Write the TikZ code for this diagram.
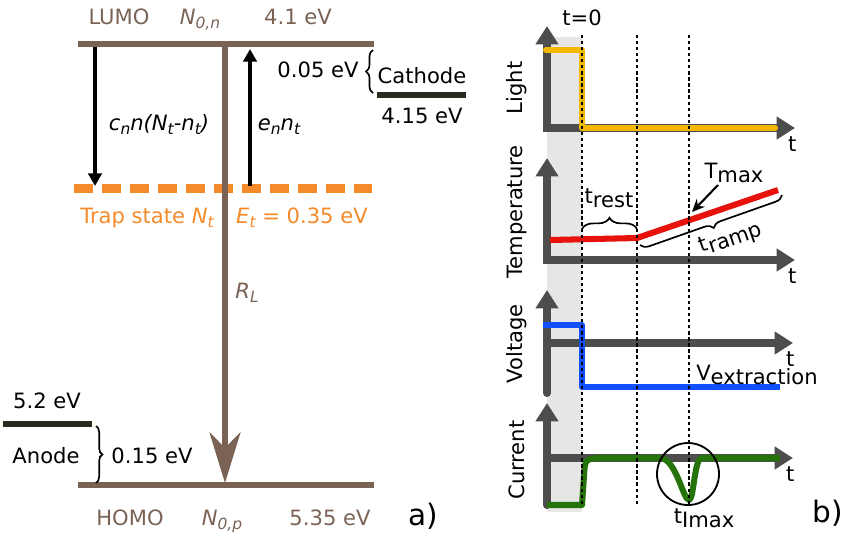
\documentclass[tikz,border=0pt]{standalone}
\usepackage{fontspec}
\setmainfont{DejaVu Sans}
\usetikzlibrary{arrows.meta, decorations.pathreplacing}
\usetikzlibrary{positioning}
\usepackage{xcolor}
\definecolor{levelbrown}{RGB}{122,99,85}
\definecolor{traporange}{RGB}{244,138,42}
\definecolor{contactdark}{RGB}{42,42,30}
\definecolor{axisgray}{RGB}{77,77,77}
\definecolor{bandgray}{RGB}{230,230,230}
\definecolor{lightyellow}{RGB}{245,184,0}
\definecolor{heatred}{RGB}{232,18,12}
\definecolor{voltblue}{RGB}{16,80,255}
\definecolor{currgreen}{RGB}{38,115,12}
\newcommand{\isub}[1]{\raisebox{-3.5pt}{\fontsize{11}{11}\selectfont #1}}
\newcommand{\tsub}[1]{\raisebox{-3pt}{#1}}

\begin{document}
\begin{tikzpicture}[x=0.025cm, y=-0.025cm,
		every node/.style={font=\fontsize{15}{18}\selectfont, inner sep=0pt, anchor=base},
		level/.style={levelbrown, line width=4.3pt},
		contact/.style={contactdark, line width=3.6pt},
		trap/.style={traporange, line width=6.4pt, dash pattern=on 13.5pt off 6.4pt},
		rate/.style={line width=3.5pt, -{Triangle[width=9.5pt, length=9pt]}},
		gap/.style={decorate, decoration={brace, amplitude=#1}, line width=1.2pt},
		gap/.default=5pt,
		axis/.style={axisgray, line width=5.7pt, line cap=round, -{Triangle[width=15.5pt, length=13pt]}},
		axisL/.style={axisgray, line width=5.7pt, {Triangle[width=15.5pt, length=13pt]}-{Triangle[width=15.5pt, length=13pt]}},
		signal/.style={line width=4.3pt, line join=round},
		marker/.style={black, line width=1.2pt, dash pattern=on 2.3pt off 2pt},
		ylab/.style={rotate=90, anchor=center},
		tlab/.style={anchor=north, yshift=-6pt, xshift=-2pt}]
		\useasboundingbox (0,0) rectangle (848,542);
		
		% a) energy levels
		\coordinate (lumoL) at (78,44);
		\coordinate (lumoR) at (374,44);
		\coordinate (homoL) at (78,485);
		\coordinate (homoR) at (374,485);
		\coordinate (trapL) at (74,188);
		\coordinate (trapR) at (372,188);
		\draw[trap] (trapL) -- (trapR);
		\draw[level] (lumoL) -- (lumoR);
		\draw[level] (homoL) -- (homoR);
		
		\coordinate (rlTop) at (225,44);
		\coordinate (rlEnd) at (225,483);
		\draw[level, line width=4pt, -{Stealth[length=36pt, width=22pt, inset=11pt]}] (rlTop) -- (rlEnd);
		
		\coordinate (capTop) at (95,47);
		\coordinate (capBot) at (95,186);
		\coordinate (emBot) at (250,186);
		\coordinate (emTop) at (250,49);
		\draw[rate] (capTop) -- (capBot);
		\draw[rate] (emBot) -- (emTop);
		
		\node[levelbrown] (lumo) at (119,24) {LUMO};
		\node[levelbrown] (nOn) at (200,24) {\itshape N\isub{0,n}};
		\node[levelbrown] (eLumo) at (298,24) {4.1 eV};
		\node (capRate) at (159,130) {\itshape c\isub{n}n(N\isub{t}-n\isub{t})};
		\node (emRate) at (279,130) {\itshape e\isub{n}n\isub{t}};
		\node[traporange] (trapName) at (147,223) {Trap state \textit{N}\isub{\itshape t}};
		\node[traporange] (trapE) at (302,223) {\textit{E}\isub{\itshape t} = 0.35 eV};
		\node[levelbrown] (rl) at (247,298) {\itshape R\isub{L}};
		\node[levelbrown] (homo) at (130,525) {HOMO};
		\node[levelbrown] (nOp) at (222,525) {\itshape N\isub{0,p}};
		\node[levelbrown] (eHomo) at (330,525) {5.35 eV};
		
		% cathode
		\coordinate (cathL) at (377,95);
		\coordinate (cathR) at (466,95);
		\draw[contact] (cathL) -- (cathR);
		\node (cath) at (422,83) {Cathode};
		\node (eCath) at (422,123) {4.15 eV};
		\coordinate (gapTop) at (373,50);
		\coordinate (gapBot) at (373,93);
		\draw[gap=5pt] (gapBot) -- (gapTop);
		\node (dCath) at (318,77) {0.05 eV};
		
		% anode
		\coordinate (anL) at (3,424);
		\coordinate (anR) at (92,424);
		\draw[contact] (anL) -- (anR);
		\node (eAn) at (47,408) {5.2 eV};
		\node (an) at (46,463) {Anode};
		\coordinate (anTop) at (96,426);
		\coordinate (anBot) at (96,483);
		\draw[gap=4.5pt] (anTop) -- (anBot);
		\node (dAn) at (152,463) {0.15 eV};
		
		\node[font=\fontsize{21}{24}\selectfont] (pa) at (423,525) {a)};
		
		% b) time traces
		\fill[bandgray] (547,37) rectangle (582,512);
		
		\coordinate (lightY) at (547,26);
		\coordinate (lightO) at (547,128);
		\coordinate (lightX) at (795,128);
		\draw[axisL] (lightY) -- (lightO) -- (lightX);
		\node[tlab] (tLight) at (lightX) {t};
		\node[ylab] (yLight) at (517,88) {Light};
		\draw[signal, lightyellow, line cap=round] (546,50) -- (582,50) -- (582,128) -- (775,128);
		
		\coordinate (tempY) at (547,158);
		\coordinate (tempO) at (547,260);
		\coordinate (tempX) at (795,260);
		\draw[axisL] (tempY) -- (tempO) -- (tempX);
		\node[tlab] (tTemp) at (tempX) {t};
		\node[ylab] (yTemp) at (517,212) {Temperature};
		\draw[signal, heatred] (550,240) -- (637,238) -- (778,190);
		
		\coordinate (voltB) at (547,393);
		\coordinate (voltY) at (547,290);
		\coordinate (voltO) at (547,343);
		\coordinate (voltX) at (793,343);
		\draw[axis] (voltB) -- (voltY);
		\draw[axis] (voltO) -- (voltX);
		\node[tlab] (tVolt) at (voltX) {t};
		\node[ylab] (yVolt) at (517,344) {Voltage};
		\draw[signal, voltblue] (543,325) -- (582,325) -- (582,387) -- (780,387);
		
		\coordinate (currB) at (547,505);
		\coordinate (currY) at (547,403);
		\coordinate (currO) at (547,458);
		\coordinate (currX) at (793,458);
		\draw[axis] (currB) -- (currY);
		\draw[axis] (currO) -- (currX);
		\node[tlab] (tCurr) at (currX) {t};
		\node[ylab] (yCurr) at (517,460) {Current};
		\draw[signal, currgreen] (547,505) -- (582,505) -- (584,476) .. controls (585,459) .. (600,458)
			-- (660,458) .. controls (676,458) and (683,500) .. (689,500)
			.. controls (694,500) and (694,458) .. (702,458) -- (780,458);
		\node[draw, circle, anchor=center, line width=1.3pt, minimum size=1.55cm] (peakRing) at (688,474) {};
		
		% event markers
		\foreach \mx [count=\i] in {582,637,689} {
			\coordinate (mTop\i) at (\mx,35);
			\coordinate (mBot\i) at (\mx,505);
			\draw[marker] (mTop\i) -- (mBot\i);
		}
		
		\node (tZero) at (582,25) {t=0};
		\node (tRest) at (609,203) {t\tsub{rest}};
		\coordinate (restL) at (582,229);
		\coordinate (restR) at (637,229);
		\draw[gap=8pt] (restL) -- (restR);
		\node (tMax) at (734,178) {T\tsub{max}};
		\coordinate (maxFrom) at (718,185);
		\coordinate (maxAt) at (692,212);
		\draw[line width=1.5pt, -{Stealth[length=9pt, width=8pt]}] (maxFrom) -- (maxAt);
		\coordinate (rampHi) at (782,195);
		\coordinate (rampLo) at (640,245);
		\draw[gap=6pt] (rampHi) -- (rampLo);
		\node[rotate=19, anchor=center] (tRamp) at (731,239) {t\tsub{ramp}};
		\node (vExt) at (757,380) {V\tsub{extraction}};
		\node (tImax) at (704,523) {t\tsub{Imax}};
		\node[font=\fontsize{21}{24}\selectfont] (pb) at (828,522) {b)};
	\end{tikzpicture}
\end{document}
